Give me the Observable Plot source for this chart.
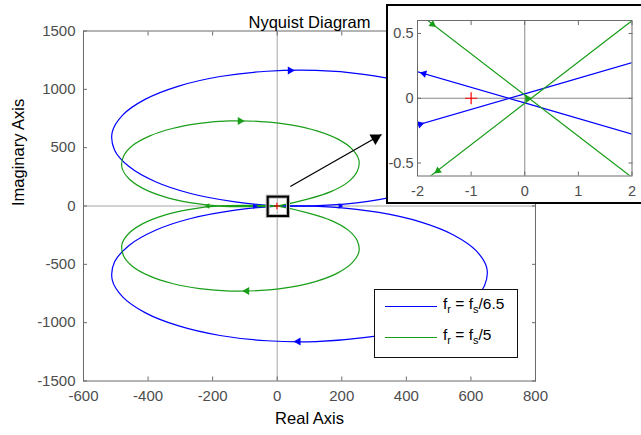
<!DOCTYPE html>
<html><head><meta charset="utf-8">
<script src="https://cdn.jsdelivr.net/npm/d3@7"></script>
<script src="https://cdn.jsdelivr.net/npm/@observablehq/plot@0.6"></script>
<style>
body{margin:0;background:#fff;}
#wrap{position:relative;width:641px;height:435px;overflow:hidden;background:#fff;font-family:"Liberation Sans",Arial,sans-serif;}
#main{position:absolute;left:0;top:0;}
#insetBox{position:absolute;left:386px;top:4px;width:262px;height:200px;box-sizing:border-box;border:2px solid #000;background:#fff;}
#inset{position:absolute;left:388px;top:6px;}
#legend{position:absolute;left:374px;top:289px;width:144px;height:69px;box-sizing:border-box;border:1px solid #111;background:#fff;}
.lline{position:absolute;left:10px;width:52px;height:0;border-top:1px solid;}
.ltext{position:absolute;left:68px;font-size:15.5px;line-height:18px;color:#000;white-space:nowrap;}
.ltext sub{font-size:11px;vertical-align:-4px;line-height:0;}
</style></head>
<body>
<div id="wrap">
  <div id="main"></div>
  <div id="insetBox"></div>
  <div id="inset"></div>
  <div id="legend"></div>
</div>
<script>
// ---------- data ----------
const xTicks = [-600, -400, -200, 0, 200, 400, 600, 800];
const yTicks = [-1500, -1000, -500, 0, 500, 1000, 1500];
const insetXTicks = [-2, -1, 0, 1, 2];
const insetYTicks = [-0.5, 0, 0.5];
const seriesLabels = ["f<sub>r</sub> = f<sub>s</sub>/6.5", "f<sub>r</sub> = f<sub>s</sub>/5"];
const seriesColors = ["#0000ff", "#1a9e1a"];

// fr = fs/6.5 (blue): upper and lower loops
const blueUpper = [[0,-0.036],[-2.5,0.264],[-130,35],[-265,105],[-377,208],[-458,336],[-504,481],[-511,633],[-478,781],[-408,916],[-305,1028],[-177,1110],[-32,1155],[120,1162],[268,1129],[403,1059],[515,956],[596,828],[642,683],[649,531],[616,383],[546,248],[443,136],[315,55],[170,9],[2.5,-0.336],[0,-0.036]];
const blueLower = [[0,0.034],[2.5,0.334],[170,-9],[315,-55],[443,-136],[546,-248],[616,-383],[649,-531],[642,-683],[596,-828],[515,-956],[403,-1059],[268,-1129],[120,-1162],[-32,-1155],[-177,-1110],[-305,-1028],[-408,-916],[-478,-781],[-511,-633],[-504,-481],[-458,-336],[-377,-208],[-265,-105],[-130,-35],[-2.5,-0.266],[0,0.034]];
// fr = fs/5 (green): upper and lower loops
const greenUpper = [[0,-0.039],[-2.5,-0.837],[-82,-4.6],[-178,-0.4],[-270,28.5],[-351,80],[-416,151],[-460,236],[-481,330],[-476,426],[-448,518],[-396,599],[-325,664],[-240,708],[-146,729],[-50,724],[41.5,696],[123,644],[188,573],[232,488],[253,394],[248,298],[220,207],[168,125],[97,60.5],[2.5,0.758],[0,-0.039]];
const greenLower = [[0,0.025],[2.5,-0.77],[97,-60.5],[168,-125],[220,-207],[248,-298],[253,-394],[232,-488],[188,-573],[123,-644],[41.5,-696],[-50,-724],[-146,-729],[-240,-708],[-325,-664],[-396,-599],[-448,-518],[-476,-426],[-481,-330],[-460,-236],[-416,-151],[-351,-80],[-270,-28.5],[-178,0.4],[-82,4.6],[-2.5,0.82],[0,0.025]];

// direction arrowheads: [x, y, heading in degrees clockwise from up]
const blueArrowsMain = [[40,1162,90],[65,-1162,-90],[-70,-3,90],[195,0,90]];
const greenArrowsMain = [[-115,728,90],[-94,-728,-90],[-215,0,-90]];
const blueArrowsInset = [[-1.88,0.19,-73.7],[-1.95,-0.2,73.7]];
const greenArrowsInset = [[-1.72,0.57,127.8],[-1.62,-0.56,232.2],[0.05,0,90]];

const criticalPoint = [[-1, 0]];
const zoomBox = [{x1: -28, x2: 35, y1: -90, y2: 76}];
const pointer = [{x1: 40.6, y1: 167, x2: 323, y2: 613}];

// ---------- helpers ----------
const rows = pts => pts.map(([x, y]) => ({x, y}));
const arrowRows = pts => pts.map(([x, y, a]) => ({x, y, a}));
const fmt = d => String(d);
const font = '"Liberation Sans", Arial, sans-serif';
const lobes = [[blueUpper, 0], [blueLower, 0], [greenUpper, 1], [greenLower, 1]];

function lobeMarks(curve, clip) {
  return lobes.map(([pts, s]) => Plot.line(rows(pts), {x: "x", y: "y", stroke: seriesColors[s], strokeWidth: 1.2, curve, clip}));
}
function arrowMarks(pts, color, r, clip) {
  return Plot.dot(arrowRows(pts), {x: "x", y: "y", rotate: "a", symbol: "triangle", r, fill: color, stroke: "none", clip});
}

// ---------- main chart ----------
const main = Plot.plot({
  width: 641, height: 435,
  marginLeft: 83, marginRight: 106, marginTop: 30.5, marginBottom: 54.5,
  x: {domain: [-600, 800], label: null},
  y: {domain: [-1500, 1500], label: null},
  style: {fontFamily: font, fontSize: "15px", background: "transparent"},
  marks: [
    Plot.ruleX([0], {stroke: "#a6a6a6"}),
    Plot.ruleY([0], {stroke: "#a6a6a6"}),
    ...lobeMarks("catmull-rom", false),
    arrowMarks(blueArrowsMain.slice(0, 2), seriesColors[0], 3),
    arrowMarks(greenArrowsMain.slice(0, 2), seriesColors[1], 3),
    arrowMarks(blueArrowsMain.slice(2), seriesColors[0], 2),
    arrowMarks(greenArrowsMain.slice(2), seriesColors[1], 2),
    Plot.dot(rows(criticalPoint), {x: "x", y: "y", symbol: "plus", stroke: "red", r: 2.2, strokeWidth: 1.1}),
    Plot.rect(zoomBox, {x1: "x1", x2: "x2", y1: "y1", y2: "y2", fill: "none", stroke: "#b5b5b5", strokeWidth: 4}),
    Plot.rect(zoomBox, {x1: "x1", x2: "x2", y1: "y1", y2: "y2", fill: "none", stroke: "#000", strokeWidth: 2}),
    Plot.link(pointer, {x1: "x1", y1: "y1", x2: "x2", y2: "y2", stroke: "#000", strokeWidth: 1.3}),
    Plot.dot(pointer, {x: "x2", y: "y2", symbol: "triangle", r: 4.5, rotate: 60.3, fill: "#000", stroke: "none", dx: -6, dy: 3.5}),
    Plot.frame({stroke: "#6b6b6b"}),
    Plot.axisX({anchor: "bottom", ticks: xTicks, tickFormat: fmt, tickSize: -4, tickPadding: 13.5, fontSize: 15, stroke: "#6b6b6b", fill: "#4d4d4d", label: null}),
    Plot.axisX({anchor: "top", ticks: xTicks, tickFormat: () => "", tickSize: -4, stroke: "#6b6b6b", label: null}),
    Plot.axisY({anchor: "left", ticks: yTicks, tickFormat: fmt, tickSize: -4, tickPadding: 12, fontSize: 15, stroke: "#6b6b6b", fill: "#4d4d4d", label: null}),
    Plot.axisY({anchor: "right", ticks: yTicks, tickFormat: () => "", tickSize: -4, stroke: "#6b6b6b", label: null}),
    Plot.text(["Nyquist Diagram"], {frameAnchor: "top", dy: -15, fontSize: 16.5, fill: "#000"}),
    Plot.text(["Real Axis"], {frameAnchor: "bottom", dy: 42.5, fontSize: 16.5, fill: "#000"}),
    Plot.text(["Imaginary Axis"], {frameAnchor: "left", dx: -65, rotate: -90, fontSize: 16.5, fill: "#000"})
  ]
});
document.getElementById("main").appendChild(main);

// ---------- inset (zoom near the origin) ----------
const inset = Plot.plot({
  width: 253, height: 196,
  marginLeft: 29, marginRight: 9.5, marginTop: 14, marginBottom: 26.5,
  x: {domain: [-2, 2], label: null},
  y: {domain: [-0.6, 0.6], label: null},
  style: {fontFamily: font, fontSize: "14.5px", background: "transparent"},
  marks: [
    Plot.ruleX([0], {stroke: "#8a8a8a"}),
    Plot.ruleY([0], {stroke: "#8a8a8a"}),
    ...lobeMarks("linear", true),
    arrowMarks(blueArrowsInset, seriesColors[0], 2.8, true),
    arrowMarks(greenArrowsInset, seriesColors[1], 2.8, true),
    Plot.dot(rows(criticalPoint), {x: "x", y: "y", symbol: "plus", stroke: "red", r: 4, strokeWidth: 1.2}),
    Plot.frame({stroke: "#6b6b6b"}),
    Plot.axisX({anchor: "bottom", ticks: insetXTicks, tickFormat: fmt, tickSize: -4, tickPadding: 13.5, fontSize: 14.5, stroke: "#6b6b6b", fill: "#4d4d4d", label: null}),
    Plot.axisX({anchor: "top", ticks: insetXTicks, tickFormat: () => "", tickSize: -4, stroke: "#6b6b6b", label: null}),
    Plot.axisY({anchor: "left", ticks: insetYTicks, tickFormat: fmt, tickSize: -4, tickPadding: 8, fontSize: 14.5, stroke: "#6b6b6b", fill: "#4d4d4d", label: null}),
    Plot.axisY({anchor: "right", ticks: insetYTicks, tickFormat: () => "", tickSize: -4, stroke: "#6b6b6b", label: null})
  ]
});
document.getElementById("inset").appendChild(inset);

// ---------- legend ----------
const legend = document.getElementById("legend");
const lineTops = [16, 47];
const textTops = [5, 35.5];
seriesLabels.forEach((lab, i) => {
  const ln = document.createElement("div");
  ln.className = "lline";
  ln.style.top = lineTops[i] + "px";
  ln.style.borderTopColor = seriesColors[i];
  legend.appendChild(ln);
  const tx = document.createElement("div");
  tx.className = "ltext";
  tx.style.top = textTops[i] + "px";
  tx.innerHTML = lab;
  legend.appendChild(tx);
});
</script>
</body></html>
